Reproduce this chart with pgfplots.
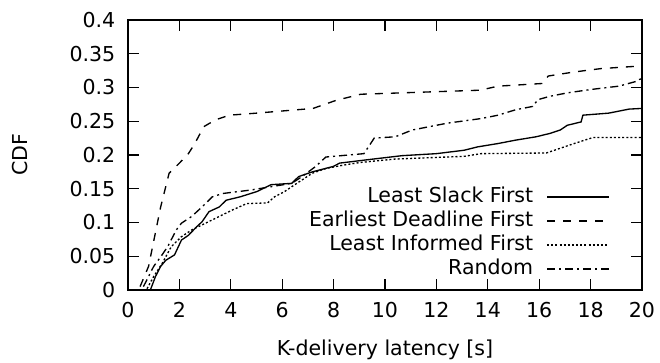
\documentclass[border=0pt]{standalone}
\usepackage{fontspec}
\setmainfont{DejaVu Sans}
\usepackage{pgfplots}
\pgfplotsset{compat=1.18}
\begin{document}
\begin{tikzpicture}
\path[use as bounding box] (-96pt,-54.75pt) rectangle (399pt,217.5pt);
\begin{axis}[
  at={(0,0)}, anchor=south west,
  scale only axis, width=385.5pt, height=202.5pt,
  xmin=0, xmax=20, ymin=0, ymax=0.4,
  xtick={0,2,...,20},
  ytick={0,0.05,...,0.4},
  yticklabels={0,0.05,0.1,0.15,0.2,0.25,0.3,0.35,0.4},
  scaled y ticks=false,
  tick align=inside, major tick length=8.5pt,
  axis line style={line width=1.3pt},
  every tick/.style={black, line width=1pt},
  font=\fontsize{15.4}{18}\selectfont,
  /pgf/number format/assume math mode=true,
  xticklabel style={yshift=-6pt},
  yticklabel style={xshift=-6pt},
  xlabel={K-delivery latency [s]}, ylabel={CDF},
  every axis x label/.style={at={(axis description cs:0.5,-0.222)},anchor=center},
  every axis y label/.style={at={(axis description cs:-0.210,0.5)},rotate=90,anchor=center},
  legend style={at={(0.938,0.383)}, anchor=north east, draw=none, fill=none,
    inner sep=0pt, column sep=10pt, row sep=2.6pt,
    nodes={inner sep=0pt, text height=11.5pt, text depth=3.9pt},
    font=\fontsize{15.4}{18}\selectfont},
  legend cell align=right,
  legend plot pos=right,
  legend image code/.code={\draw[#1] (0pt,0pt) -- (46.5pt,0pt);},
  every axis plot/.append style={black, line width=1pt},
]
\addplot[solid] coordinates {
(0.87,0) (1.07,0.02) (1.27,0.035) (1.47,0.044) (1.81,0.052) (2.08,0.074) (2.35,0.081) (2.68,0.094) (2.88,0.101) (3.15,0.116) (3.55,0.123) (3.82,0.133) (4.36,0.138) (5.03,0.146) (5.56,0.156) (6.37,0.158) (6.64,0.168) (7.17,0.175) (7.98,0.183) (8.24,0.188) (9.32,0.193) (10.66,0.199) (12.0,0.202) (13.07,0.207) (13.6,0.212) (14.4,0.217) (15.08,0.222) (15.88,0.227) (16.42,0.232) (16.82,0.237) (17.09,0.244) (17.63,0.249) (17.7,0.259) (18.7,0.262) (19.5,0.268) (20,0.269)};
\addlegendentry{Least Slack First}
\addplot[dash pattern=on 6pt off 6pt] coordinates {
(0.47,0.005) (0.8,0.035) (1.27,0.123) (1.6,0.173) (2.0,0.188) (2.35,0.202) (2.6,0.217) (2.95,0.242) (3.4,0.252) (3.95,0.259) (5.0,0.262) (7.2,0.269) (8.1,0.281) (9.05,0.29) (13.7,0.296) (14.4,0.302) (16.15,0.306) (16.35,0.317) (17.36,0.323) (18.4,0.328) (20,0.332)};
\addlegendentry{Earliest Deadline First}
\addplot[dash pattern=on 1.5pt off 1.6pt] coordinates {
(0.74,0.002) (1.0,0.02) (1.34,0.04) (1.68,0.064) (2.08,0.079) (2.48,0.089) (3.02,0.099) (3.55,0.109) (4.09,0.119) (4.62,0.128) (5.43,0.129) (5.7,0.138) (6.1,0.146) (6.37,0.153) (6.77,0.163) (7.17,0.173) (7.7,0.180) (8.38,0.185) (9.05,0.189) (10.4,0.194) (13.07,0.198) (13.74,0.202) (16.28,0.203) (16.82,0.21) (17.36,0.217) (18.1,0.226) (20,0.226)};
\addlegendentry{Least Informed First}
\addplot[dash pattern=on 6pt off 3pt on 1.5pt off 3pt] coordinates {
(0.6,0.005) (1.0,0.035) (1.27,0.049) (1.54,0.064) (1.88,0.089) (2.08,0.099) (2.48,0.109) (2.88,0.123) (3.28,0.138) (3.69,0.143) (4.76,0.148) (5.56,0.153) (6.37,0.158) (6.77,0.168) (7.3,0.183) (7.7,0.197) (9.18,0.202) (9.58,0.225) (10.4,0.227) (11.06,0.237) (12.4,0.247) (13.74,0.254) (14.4,0.259) (15.08,0.267) (15.75,0.272) (15.95,0.282) (16.42,0.287) (17.09,0.292) (18.0,0.297) (19.1,0.302) (19.77,0.309) (19.9,0.312) (20,0.313)};
\addlegendentry{Random}
\end{axis}
\end{tikzpicture}
\end{document}
